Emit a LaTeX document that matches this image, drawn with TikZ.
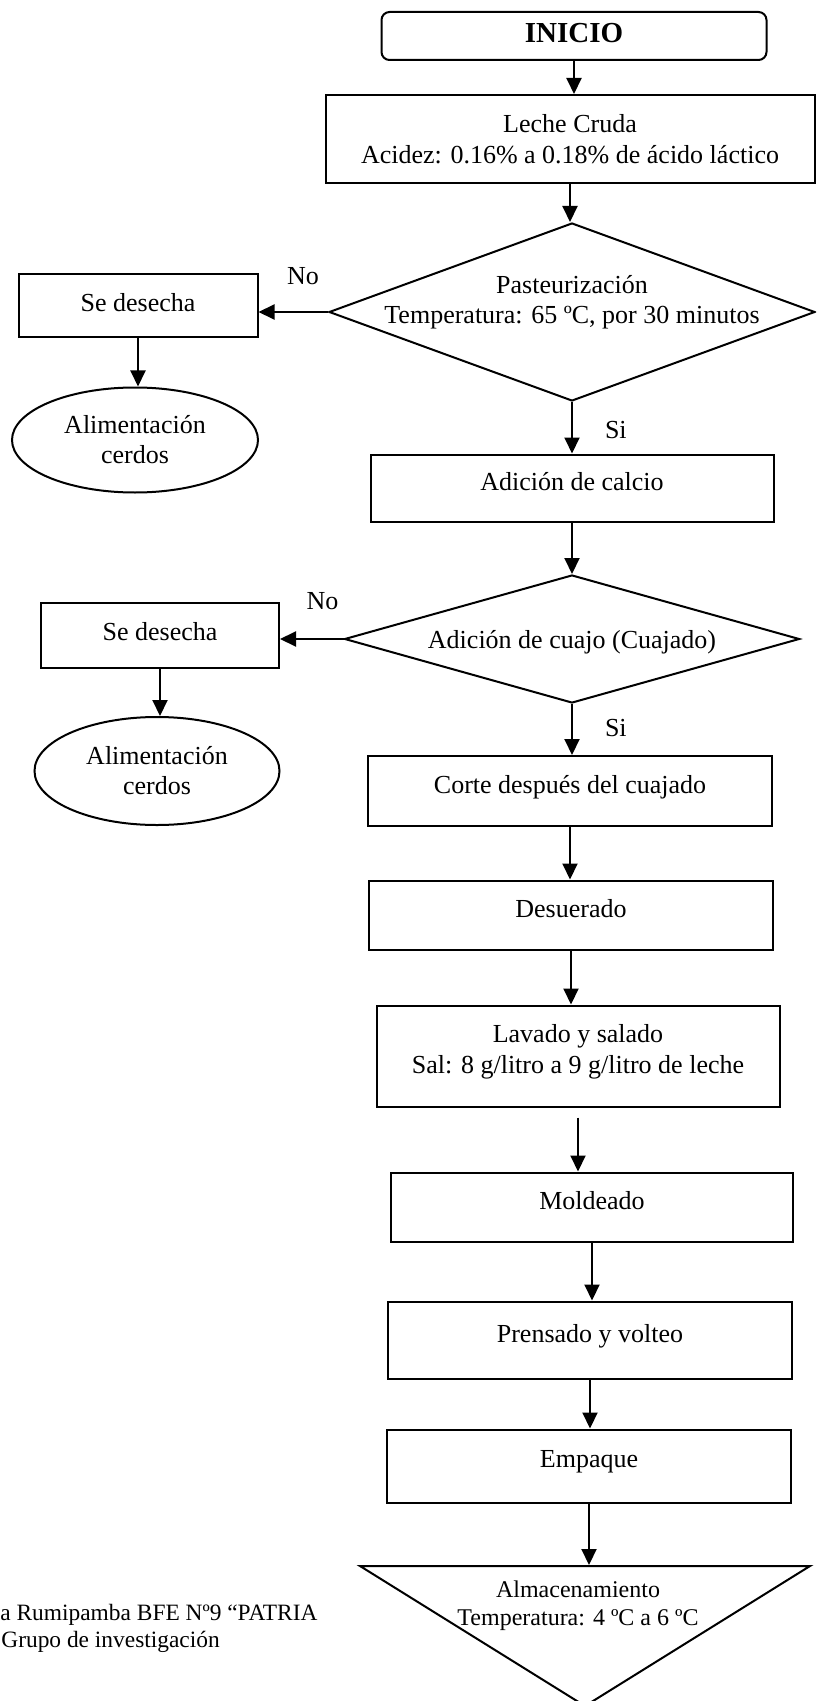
\documentclass[tikz,border=0pt]{standalone}
\usepackage{fontspec}
\setmainfont{Liberation Serif}
\usetikzlibrary{shapes.geometric,arrows.meta}

\tikzset{
  stepbox/.style={draw, line width=1pt, rectangle, inner sep=0pt, align=center,
    font=\fontsize{13}{15.5}\selectfont, text depth=7pt},
  startbox/.style={stepbox, rounded corners=4pt, text depth=3pt,
    font=\fontsize{14.5}{17}\selectfont\bfseries},
  decision/.style={draw, line width=1pt, diamond, inner sep=0pt},
  waste/.style={draw, line width=1pt, ellipse, inner sep=0pt, align=center,
    font=\fontsize{13}{15}\selectfont},
  store/.style={draw, line width=1pt, isosceles triangle, isosceles triangle stretches,
    shape border rotate=270, inner sep=0pt},
  answer/.style={font=\fontsize{13}{15}\selectfont, inner sep=0pt},
  flow/.style={-{Triangle[length=8pt,width=7.5pt]}, line width=1pt},
}

\begin{document}
\begin{tikzpicture}[x=0.5pt, y=-0.5pt]
  \useasboundingbox (0,0) rectangle (816,1701);
  \clip (0,0) rectangle (816,1701);
  \fill[white] (0,0) rectangle (816,1701);

  \node (ini) [startbox, minimum width=192.5pt, minimum height=24pt] at (574,36) {INICIO};
  \node (lech) [stepbox, text depth=0pt, minimum width=244.5pt, minimum height=44pt] at (570,139)
    {Leche Cruda\\Acidez: 0.16\% a 0.18\% de ácido láctico};
  \node (pas) [decision, minimum width=243pt, minimum height=89pt,
    label={[answer, align=center, yshift=5pt]center:{Pasteurización\\Temperatura: 65 ºC, por 30 minutos}}]
    at (572,312) {};
  \node (des1) [stepbox, text depth=4pt, minimum width=119.5pt, minimum height=31.5pt] at (138,306) {Se desecha};
  \node (ali1) [waste, minimum width=123pt, minimum height=52.5pt] at (135,440) {Alimentación\\cerdos};
  \node (cal) [stepbox, minimum width=201.5pt, minimum height=33.5pt] at (572,488) {Adición de calcio};
  \node (cua) [decision, minimum width=227.5pt, minimum height=64pt,
    label={[answer, yshift=-1.5pt]center:{Adición de cuajo (Cuajado)}}] at (572,639) {};
  \node (des2) [stepbox, text depth=4pt, minimum width=119pt, minimum height=32.5pt] at (160,635) {Se desecha};
  \node (ali2) [waste, minimum width=122.5pt, minimum height=54pt] at (157,771) {Alimentación\\cerdos};
  \node (cor) [stepbox, minimum width=202pt, minimum height=35pt] at (570,791) {Corte después del cuajado};
  \node (deu) [stepbox, minimum width=202pt, minimum height=34.5pt] at (571,915) {Desuerado};
  \node (lav) [stepbox, minimum width=201.5pt, minimum height=50.5pt] at (578,1056)
    {Lavado y salado\\Sal: 8 g/litro a 9 g/litro de leche};
  \node (mol) [stepbox, minimum width=201pt, minimum height=34.5pt] at (592,1207) {Moldeado};
  \node (pre) [stepbox, minimum width=202pt, minimum height=38.5pt] at (590,1340) {Prensado y volteo};
  \node (emp) [stepbox, minimum width=202pt, minimum height=36.5pt] at (589,1466) {Empaque};
  \node (alm) [store, minimum width=225pt, minimum height=70pt, anchor=lower side] at (585,1565) {};
  \node (almtxt) [align=center, inner sep=0pt, font=\fontsize{12}{14}\selectfont] at (578,1606)
    {Almacenamiento\\Temperatura: 4 ºC a 6 ºC};

  \node (fuente) [anchor=west, inner sep=0pt, font=\fontsize{11.7}{14}\selectfont] at (0,1615)
    {a Rumipamba BFE Nº9 “PATRIA};
  \node (grupo) [anchor=west, inner sep=0pt, font=\fontsize{11.7}{14}\selectfont] at (1,1642)
    {Grupo de investigación};

  \begin{scope}[flow]
    \draw (ini) -- (ini |- lech.north);
    \draw (lech) -- (lech |- pas.north);
    \draw (pas.west) -- node[answer, pos=0.36, above=13pt] (no1) {No} (pas.west -| des1.east);
    \draw (des1) -- (des1 |- ali1.north);
    \draw (pas) -- node[answer, pos=0.55, right=16pt] (si1) {Si} (pas |- cal.north);
    \draw (cal) -- (cal |- cua.north);
    \draw (cua.west) -- node[answer, pos=0.33, above=14pt] (no2) {No} (cua.west -| des2.east);
    \draw (des2) -- (des2 |- ali2.north);
    \draw (cua) -- node[answer, pos=0.47, right=16pt] (si2) {Si} (cua |- cor.north);
    \draw (cor) -- (cor |- deu.north);
    \draw (deu) -- (deu |- lav.north);
    \draw[shorten <=5pt] (lav) -- (lav |- mol.north);
    \draw (mol) -- (mol |- pre.north);
    \draw (pre) -- (pre |- emp.north);
    \draw (emp) -- (emp |- alm.lower side);
  \end{scope}
\end{tikzpicture}
\end{document}
